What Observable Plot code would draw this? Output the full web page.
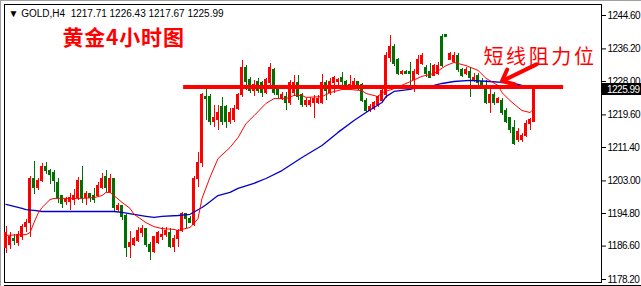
<!DOCTYPE html>
<html><head><meta charset="utf-8">
<script src="https://cdn.jsdelivr.net/npm/d3@7"></script>
<script src="https://cdn.jsdelivr.net/npm/@observablehq/plot@0.6"></script>
<style>body{margin:0;background:#fff;} svg{display:block;}</style>
</head><body><div id="chart"></div>
<script>
const symbol = "GOLD,H4";
const title = "黄金4小时图";
const note = "短线阻力位";
const opens = [1186.0,1186.8,1188.5,1187.3,1189.0,1191.5,1192.3,1203.4,1201.1,1203.1,1206.4,1205.6,1204.9,1202.4,1199.1,1197.6,1197.8,1198.3,1198.8,1202.9,1198.6,1199.6,1199.3,1199.3,1201.3,1203.9,1200.1,1203.4,1195.8,1196.6,1194.1,1186.3,1186.8,1187.8,1190.0,1190.8,1187.0,1185.0,1187.3,1189.0,1189.3,1190.0,1186.5,1188.3,1190.5,1194.6,1193.5,1191.8,1203.4,1207.4,1224.2,1224.0,1217.7,1218.2,1221.7,1221.5,1217.9,1218.4,1221.0,1224.5,1231.5,1228.3,1225.7,1227.8,1227.5,1225.2,1227.5,1230.8,1226.2,1223.7,1224.2,1222.5,1225.0,1227.5,1224.5,1222.0,1222.2,1222.5,1222.7,1222.5,1227.5,1225.0,1227.5,1227.8,1228.8,1227.8,1226.5,1227.0,1227.8,1227.0,1223.2,1220.7,1221.2,1222.0,1223.2,1224.5,1233.8,1236.6,1233.5,1230.0,1230.3,1230.5,1228.3,1230.0,1232.5,1231.3,1230.3,1229.5,1230.0,1239.3,1239.8,1233.5,1232.8,1234.5,1230.8,1229.8,1230.3,1228.3,1229.5,1227.8,1226.5,1222.7,1224.5,1222.7,1223.2,1220.7,1218.7,1216.4,1213.2,1213.2,1214.4,1217.4,1217.71];
const highs = [1191.5,1190.0,1189.5,1190.3,1192.0,1193.3,1204.1,1207.9,1203.6,1207.4,1207.6,1205.9,1205.6,1203.6,1199.3,1198.8,1199.8,1200.8,1203.9,1206.6,1200.3,1199.8,1201.1,1202.6,1204.9,1205.6,1204.6,1203.6,1197.3,1196.8,1194.6,1190.3,1188.8,1191.3,1191.8,1191.0,1187.5,1189.0,1190.3,1191.3,1191.3,1191.0,1189.3,1190.8,1195.1,1194.8,1194.1,1204.1,1210.1,1225.0,1226.0,1224.7,1222.0,1222.0,1224.0,1222.0,1221.2,1222.0,1225.0,1233.3,1232.0,1229.0,1228.3,1228.8,1228.0,1228.8,1232.5,1231.3,1226.7,1225.2,1225.2,1228.3,1229.5,1229.5,1225.0,1223.7,1224.0,1224.5,1224.5,1229.8,1228.3,1228.8,1229.3,1228.8,1230.3,1228.3,1229.5,1228.8,1228.0,1227.5,1223.7,1222.2,1223.0,1224.5,1226.2,1235.3,1239.6,1237.3,1233.8,1230.8,1230.8,1232.8,1231.0,1234.5,1235.0,1232.0,1232.5,1232.3,1232.8,1239.8,1239.9,1235.3,1235.3,1235.0,1231.3,1231.5,1231.5,1230.0,1230.0,1228.8,1228.3,1226.2,1225.2,1224.0,1223.7,1221.2,1218.9,1218.2,1216.2,1214.9,1218.2,1218.7,1226.43];
const lows = [1184.7,1185.8,1186.8,1186.5,1188.0,1190.0,1188.8,1199.6,1200.6,1202.6,1204.6,1202.1,1200.1,1197.3,1196.1,1196.8,1195.6,1196.8,1198.1,1197.3,1196.8,1197.6,1197.3,1198.8,1200.8,1200.1,1199.8,1195.1,1195.1,1193.0,1183.7,1183.5,1186.5,1187.5,1188.8,1186.3,1183.0,1184.7,1187.0,1188.0,1188.8,1186.0,1185.0,1186.3,1190.0,1191.0,1192.3,1191.5,1201.3,1206.4,1218.2,1216.9,1216.4,1215.7,1216.9,1216.2,1217.2,1217.7,1220.7,1224.0,1225.7,1225.0,1224.2,1225.0,1224.0,1224.7,1227.0,1224.5,1223.7,1223.2,1220.7,1222.0,1224.2,1223.2,1221.5,1221.5,1221.5,1218.7,1222.2,1222.2,1223.2,1224.5,1225.0,1226.5,1227.0,1225.7,1226.2,1226.5,1225.7,1222.7,1220.2,1220.2,1220.7,1221.5,1222.7,1223.7,1232.8,1231.8,1229.5,1229.5,1229.8,1227.0,1225.2,1229.5,1232.0,1229.0,1228.8,1229.3,1229.5,1231.5,1239.1,1233.3,1232.5,1230.3,1229.0,1229.5,1224.0,1227.8,1226.5,1226.3,1222.2,1220.0,1222.0,1222.5,1219.5,1217.4,1214.9,1211.9,1212.7,1212.7,1213.9,1215.7,1217.67];
const closes = [1189.8,1188.8,1187.8,1189.3,1191.5,1192.5,1203.4,1201.1,1203.1,1206.4,1205.6,1204.4,1202.9,1198.8,1197.3,1198.3,1198.6,1199.1,1202.9,1198.8,1199.8,1198.8,1198.3,1201.8,1203.6,1201.1,1203.6,1196.1,1196.6,1193.8,1186.0,1187.3,1188.3,1190.3,1191.0,1186.8,1185.0,1188.8,1189.8,1189.5,1190.3,1186.5,1188.5,1190.3,1194.6,1193.3,1192.5,1203.6,1207.6,1224.5,1223.7,1217.7,1218.9,1220.2,1217.9,1217.7,1220.2,1221.2,1224.7,1231.5,1227.8,1225.5,1227.2,1225.7,1225.0,1228.3,1231.3,1225.0,1224.5,1224.7,1222.5,1227.5,1227.5,1224.0,1222.0,1223.0,1223.2,1223.5,1223.7,1227.5,1225.5,1227.8,1228.8,1228.5,1227.8,1226.2,1227.0,1228.0,1226.2,1223.2,1220.7,1221.5,1222.5,1224.0,1225.5,1234.3,1236.6,1232.3,1230.0,1230.5,1230.0,1230.0,1230.5,1233.3,1234.5,1230.0,1229.0,1232.0,1232.0,1232.0,1239.3,1235.0,1234.5,1230.8,1229.5,1230.8,1228.8,1229.0,1227.5,1226.5,1222.7,1224.5,1222.5,1223.7,1220.0,1217.7,1215.7,1212.4,1215.2,1214.4,1217.4,1218.2,1225.99];
const priceTicks = [1178.20,1186.60,1194.80,1203.00,1211.40,1219.60,1228.00,1236.20,1244.60];
// moving averages (candle index, price)
const maFastIdx = [0,5,6,7,8,9,11,12,15,19,22,24,25,26,27,29,31,32,35,37,39,42,43,44,46,47,48,49,51,53,56,58,60,62,65,67,70,72,74,75,79,81,84,86,89,90,93,94,97,100,104,107,110,112,115,118,120,123,124,126,128,129,131,132];
const maFastVal = [1189.3,1189.5,1190.0,1192.5,1194.8,1196.3,1198.3,1198.6,1198.6,1198.6,1198.8,1199.3,1200.1,1200.1,1199.3,1197.6,1196.1,1194.6,1192.5,1191.5,1191.0,1190.8,1190.5,1190.8,1191.3,1192.3,1193.5,1198.6,1203.9,1208.6,1211.4,1213.9,1217.4,1219.4,1222.5,1223.7,1223.7,1224.5,1224.5,1224.0,1224.2,1225.2,1226.0,1226.0,1225.7,1225.0,1224.2,1225.2,1226.2,1227.5,1229.3,1230.0,1232.0,1232.8,1232.0,1230.8,1228.8,1227.0,1225.2,1223.2,1221.5,1220.7,1220.2,1221.2];
const maSlowIdx = [0,2,4,5,7,9,15,19,24,27,29,32,35,37,39,43,46,49,50,53,56,58,62,65,69,74,79,83,87,90,94,95,97,101,103,107,109,112,116,121,124,127,129,132];
const maSlowVal = [1197.1,1196.6,1196.1,1195.8,1195.6,1195.3,1195.3,1195.3,1195.3,1195.3,1195.1,1194.6,1194.1,1193.8,1194.1,1194.3,1194.6,1196.3,1197.0,1199.3,1200.1,1201.1,1202.4,1203.6,1205.6,1208.9,1211.9,1215.2,1218.2,1220.2,1222.7,1224.2,1225.5,1226.0,1226.5,1227.0,1227.5,1228.0,1228.3,1228.0,1227.8,1227.5,1227.0,1226.7];
const resistance = 1226.6;
const resistanceSpan = [44.4, 139.4];      // candle-index span of the drawn level
const arrowNote = {i1: 132.6, p1: 1232.3, i2: 124.0, p2: 1228.1};

const RED = "#ff0000", GREEN = "#007000", BLUE = "#0000c8";
const last = closes.length - 1;
const candles = opens.map((o, i) => ({i, open: o, high: highs[i], low: lows[i], close: closes[i], up: closes[i] >= o}));
const fast = maFastIdx.map((i, j) => ({i, v: maFastVal[j]}));
const slow = maSlowIdx.map((i, j) => ({i, v: maSlowVal[j]}));
const header = `\u25BC ${symbol}\u00A0\u00A0${opens[last].toFixed(2)} ${highs[last].toFixed(2)} ${lows[last].toFixed(2)} ${closes[last].toFixed(2)}`;

const plot = Plot.plot({
  width: 641, height: 286,
  marginLeft: 4, marginRight: 40, marginTop: 4, marginBottom: 4,
  style: {fontFamily: "Liberation Sans, Arial, sans-serif", fontSize: "10px", background: "#fff", color: "#000"},
  x: {domain: [0, last], range: [5.5, 533.5], axis: null},
  y: {domain: [1178.2, 1244.6], range: [279, 15], axis: "right", ticks: priceTicks,
      tickFormat: d => d.toFixed(2), tickSize: 4, tickPadding: 2, label: null},
  marks: [
    Plot.frame({stroke: "#000"}),
    Plot.ruleX(candles, {x: "i", y1: "low", y2: "high", stroke: d => d.up ? RED : GREEN, strokeWidth: 1, shapeRendering: "crispEdges"}),
    Plot.rect(candles, {x1: d => d.i - 0.38, x2: d => d.i + 0.38, y1: "open", y2: "close",
      fill: d => d.up ? RED : GREEN, insetTop: -0.5, insetBottom: -0.5, shapeRendering: "crispEdges"}),
    Plot.line(slow, {x: "i", y: "v", stroke: BLUE, strokeWidth: 1.3}),
    Plot.line(fast, {x: "i", y: "v", stroke: RED, strokeWidth: 1}),
    Plot.ruleY([resistance], {x1: resistanceSpan[0], x2: resistanceSpan[1], stroke: RED, strokeWidth: 4}),
    Plot.arrow([arrowNote], {x1: "i1", y1: "p1", x2: "i2", y2: "p2", stroke: RED, strokeWidth: 4, headLength: 9, headAngle: 80}),
    Plot.text([header], {text: d => d, frameAnchor: "top-left", dx: 4, dy: 9, lineAnchor: "middle", textAnchor: "start", fontSize: 10, fill: "#000"}),
    Plot.text([title], {text: d => d, frameAnchor: "top-left", dx: 58, dy: 34, lineAnchor: "middle", textAnchor: "start",
      fontSize: 21, fontWeight: "bold", fill: RED, fontFamily: "Noto Sans CJK SC"}),
    Plot.text([note], {text: d => d, frameAnchor: "top-left", dx: 479, dy: 53, lineAnchor: "middle", textAnchor: "start",
      fontSize: 20, fill: RED, fontFamily: "Noto Sans CJK SC"})
  ]
});

const svg = d3.select(plot.tagName.toLowerCase() === "svg" ? plot : plot.querySelector("svg"));
svg.selectAll("g[aria-label='y-axis tick label'] text, g[aria-label='y-axis'] text").style("letter-spacing", "-0.5px");
svg.selectAll("text").filter(function(){ return this.textContent === title; }).style("letter-spacing", "0.8px");
svg.selectAll("text").filter(function(){ return this.textContent === note; }).style("letter-spacing", "2.6px");
svg.selectAll("text").filter(function(){ return this.textContent === header; }).style("letter-spacing", "0px").style("white-space", "pre");
// current price label on the price axis (covers the neighbouring tick label, as in MetaTrader)
const yc = plot.scale("y").apply(closes[last]);
svg.append("rect").attr("x", 602).attr("y", Math.round(yc) - 6).attr("width", 39).attr("height", 12).attr("fill", "#000");
svg.append("text").attr("x", 607).attr("y", Math.round(yc)).attr("dy", "0.35em").attr("fill", "#fff")
  .attr("text-anchor", "start").style("font-size", "10px").style("letter-spacing", "-0.5px").text(closes[last].toFixed(2));
// window borders
svg.append("line").attr("x1", 0.5).attr("x2", 0.5).attr("y1", 0).attr("y2", 286).attr("stroke", "#a0a0a0");
svg.append("line").attr("x1", 0).attr("x2", 641).attr("y1", 0.5).attr("y2", 0.5).attr("stroke", "#a0a0a0");
svg.append("line").attr("x1", 4).attr("x2", 641).attr("y1", 285.5).attr("y2", 285.5).attr("stroke", "#000");
document.getElementById("chart").appendChild(plot);
</script></body></html>
